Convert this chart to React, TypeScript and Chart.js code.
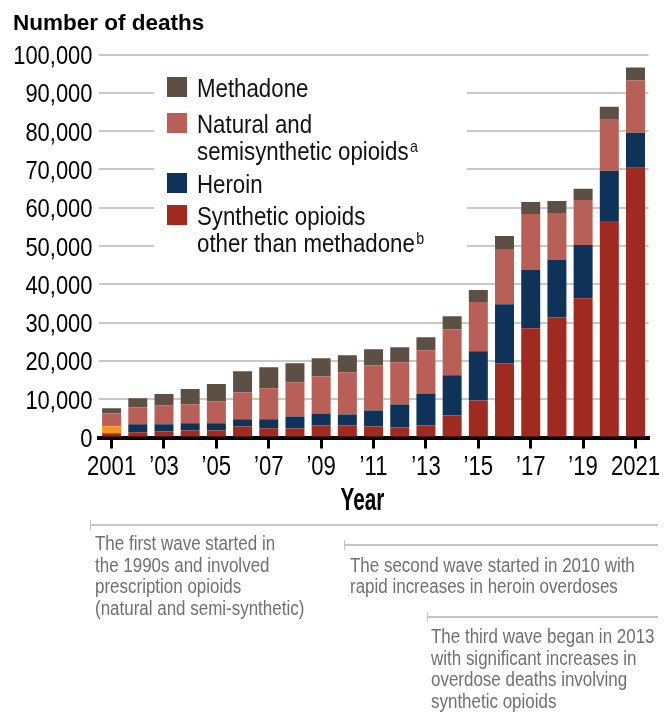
import { useEffect, useRef } from "react";
import { Chart, registerables } from "chart.js";

Chart.register(...registerables);

const FONT = '"Liberation Sans", Arial, sans-serif';

const years = [
  "2001", "2002", "2003", "2004", "2005", "2006", "2007", "2008", "2009", "2010",
  "2011", "2012", "2013", "2014", "2015", "2016", "2017", "2018", "2019", "2020", "2021",
];
const tickLabels = [
  "2001", "", "\u201903", "", "\u201905", "", "\u201907", "", "\u201909", "",
  "\u201911", "", "\u201913", "", "\u201915", "", "\u201917", "", "\u201919", "", "2021",
];

const synthetic = [1130, 1390, 1570, 1830, 1830, 2880, 2430, 2360, 3140, 3140, 2880, 2620, 3140, 5760, 9690, 19370, 28530, 31410, 36390, 56540, 70420];
const heroin = [1830, 2090, 1910, 1910, 1910, 1910, 2360, 3140, 3140, 2880, 4190, 6020, 8380, 10470, 12830, 15450, 15180, 14920, 13870, 13090, 9160];
const natural = [3400, 4370, 4900, 4970, 5680, 6990, 8040, 8900, 9690, 10990, 11780, 10990, 11260, 12040, 12830, 14400, 14660, 12300, 11780, 13350, 13610];
const methadone = [1300, 2430, 2960, 3930, 4530, 5500, 5500, 4970, 4710, 4450, 4190, 3930, 3400, 3400, 3140, 3400, 3140, 3140, 2880, 3400, 3400];

const C_METH = "#5e4f45";
const C_NAT = "#b86057";
const C_HER = "#0f3358";
const C_SYN = "#a12a20";
const C_HER_2001 = "#f7941d";

const legendItems = [
  { color: C_METH, lines: ["Methadone"], sup: "" },
  { color: C_NAT, lines: ["Natural and", "semisynthetic opioids"], sup: "a" },
  { color: C_HER, lines: ["Heroin"], sup: "" },
  { color: C_SYN, lines: ["Synthetic opioids", "other than methadone"], sup: "b" },
];

const annotations = [
  { x: 90, lineY: 525, textX: 95, firstBaseline: 550, lines: ["The first wave started in", "the 1990s and involved", "prescription opioids", "(natural and semi-synthetic)"] },
  { x: 344, lineY: 545, textX: 350, firstBaseline: 571.7, lines: ["The second wave started in 2010 with", "rapid increases in heroin overdoses"] },
  { x: 427, lineY: 617, textX: 431, firstBaseline: 643, lines: ["The third wave began in 2013", "with significant increases in", "overdose deaths involving", "synthetic opioids"] },
];

function drawText(
  ctx: CanvasRenderingContext2D,
  text: string,
  x: number,
  y: number,
  size: number,
  sx: number,
  opts: { bold?: boolean; align?: CanvasTextAlign; color?: string } = {}
) {
  ctx.save();
  ctx.font = `${opts.bold ? "bold " : ""}${size}px ${FONT}`;
  ctx.fillStyle = opts.color || "#000";
  ctx.textAlign = opts.align || "left";
  ctx.textBaseline = "alphabetic";
  ctx.translate(x, y);
  ctx.scale(sx, 1);
  ctx.fillText(text, 0, 0);
  const w = ctx.measureText(text).width * sx;
  ctx.restore();
  return w;
}

const decorPlugin = {
  id: "decor",
  afterDraw(chart: any) {
    const ctx = chart.ctx as CanvasRenderingContext2D;
    const ys = chart.scales.y;
    const xs = chart.scales.x;

    // Y tick labels
    ys.ticks.forEach((t: any, i: number) => {
      const py = ys.getPixelForTick(i);
      drawText(ctx, Number(t.value).toLocaleString("en-US"), 92.5, py + 9.5, 25.5, 0.86, { align: "right" });
    });
    // X tick labels
    xs.ticks.forEach((_t: any, i: number) => {
      const lab = tickLabels[i];
      if (!lab) return;
      drawText(ctx, lab, xs.getPixelForTick(i), 475, 28, 0.79, { align: "center" });
    });

    // Title
    drawText(ctx, "Number of deaths", 13, 30, 22.5, 1.0, { bold: true });

    // Legend
    ctx.save();
    ctx.fillStyle = "#fff";
    ctx.fillRect(154, 62, 313, 196);
    ctx.restore();
    const tops = [77, 113, 173, 205];
    legendItems.forEach((it, i) => {
      const top = tops[i];
      ctx.save();
      ctx.fillStyle = it.color;
      ctx.fillRect(167, top, 20, 20);
      ctx.restore();
      it.lines.forEach((ln, j) => {
        const by = top + 20 + j * 27;
        const w = drawText(ctx, ln, 197, by, 26.5, 0.84, { color: "#111" });
        if (it.sup && j === it.lines.length - 1) {
          drawText(ctx, it.sup, 197 + w + 1.5, by - 8, 17, 0.84, { color: "#111" });
        }
      });
    });

    // X axis title
    drawText(ctx, "Year", 362.5, 510, 30.5, 0.68, { bold: true, align: "center" });

    // Annotations
    annotations.forEach((a) => {
      ctx.save();
      ctx.strokeStyle = "#c4c4c4";
      ctx.lineWidth = 2;
      ctx.beginPath();
      ctx.moveTo(a.x, a.lineY);
      ctx.lineTo(658, a.lineY);
      ctx.stroke();
      ctx.lineWidth = 1;
      ctx.beginPath();
      ctx.moveTo(a.x + 0.5, a.lineY - 5);
      ctx.lineTo(a.x + 0.5, a.lineY + 5);
      ctx.stroke();
      ctx.restore();
      a.lines.forEach((ln, j) => {
        drawText(ctx, ln, a.textX, a.firstBaseline + j * 21.7, 19.5, 0.87, { color: "#707070" });
      });
    });
  },
};

export default function App() {
  const ref = useRef<HTMLCanvasElement>(null);
  useEffect(() => {
    document.body.style.margin = "0";
    const chart = new Chart(ref.current!, {
      type: "bar",
      data: {
        labels: years,
        datasets: [
          { label: "Synthetic opioids other than methadone", data: synthetic, backgroundColor: C_SYN },
          { label: "Heroin", data: heroin, backgroundColor: heroin.map((_, i) => (i === 0 ? C_HER_2001 : C_HER)) },
          { label: "Natural and semisynthetic opioids", data: natural, backgroundColor: C_NAT },
          { label: "Methadone", data: methadone, backgroundColor: C_METH },
        ],
      },
      options: {
        animation: false,
        responsive: true,
        maintainAspectRatio: false,
        layout: { padding: { left: 0, top: 54.5, right: 20.4, bottom: 0 } },
        datasets: { bar: { categoryPercentage: 1, barPercentage: 0.725 } },
        plugins: { legend: { display: false }, tooltip: { enabled: false }, title: { display: false } },
        scales: {
          x: {
            stacked: true,
            offset: true,
            grid: {
              offset: false,
              drawOnChartArea: false,
              drawTicks: true,
              tickLength: 11,
              lineWidth: 3,
              color: (c: any) => (c.index % 2 === 0 ? "#000" : "rgba(0,0,0,0)"),
            },
            border: { display: true, color: "#000", width: 4 },
            ticks: { display: false, autoSkip: false, maxRotation: 0, minRotation: 0 },
            afterFit: (s: any) => {
              s.height = 717 - 437.5;
            },
          },
          y: {
            stacked: true,
            min: 0,
            max: 100000,
            ticks: { display: false, stepSize: 10000 },
            grid: { color: "#c8c8c8", lineWidth: 2, drawTicks: false },
            border: { display: false },
            afterFit: (s: any) => {
              s.width = 98.5;
            },
          },
        },
      },
      plugins: [decorPlugin],
    });
    return () => chart.destroy();
  }, []);
  return (
    <div style={{ position: "absolute", left: 0, top: 0, width: 669, height: 717 }}>
      <canvas ref={ref} />
    </div>
  );
}
